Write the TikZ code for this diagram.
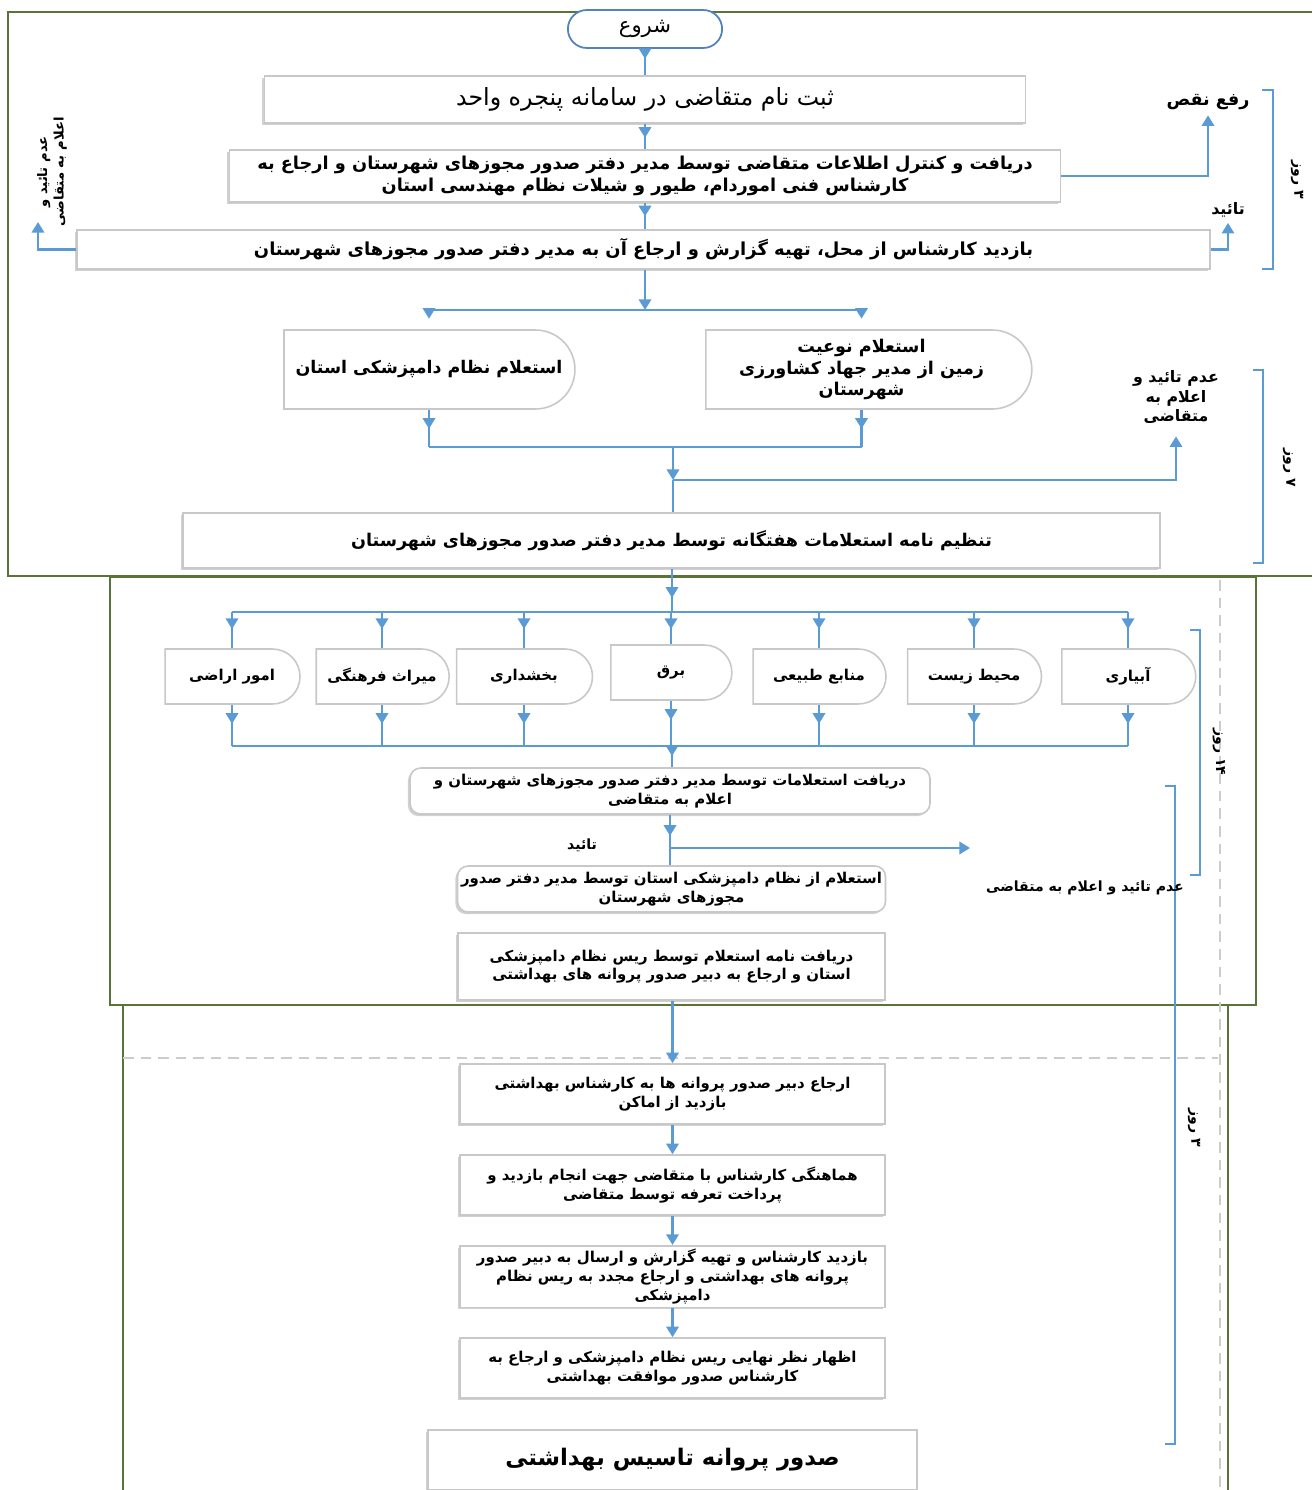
\documentclass[tikz,border=0pt]{standalone}
\usepackage{fontspec}
\newfontfamily\arabicfont[Script=Arabic]{DejaVu Sans}
\TeXXeTstate=1
\usetikzlibrary{arrows.meta,shapes.misc,decorations.markings,shadows,calc}
\newcommand\fatxt[1]{{\arabicfont\beginR #1\endR}}
\definecolor{conblue}{RGB}{91,155,213}
\definecolor{framegreen}{RGB}{90,115,55}
\definecolor{boxgray}{RGB}{200,200,200}
\definecolor{startblue}{RGB}{80,130,190}
\begin{document}
\begin{tikzpicture}[x=0.02cm,y=-0.02cm,
  conn/.style={draw=conblue,color=conblue,line width=1.3pt},
  endtip/.style={-{Triangle[width=7pt,length=6pt]}},
  midtip/.style={postaction={decorate},decoration={markings,mark=at position #1 with {\arrow{Triangle[width=7pt,length=6pt]}}}},
  shadowed/.style={drop shadow={shadow xshift=-1.2pt,shadow yshift=-1.2pt,opacity=0.18,fill=black}},
  box/.style={rectangle,draw=boxgray,line width=0.9pt,fill=white,align=center,inner sep=2pt,shadowed},
  rbox/.style={rectangle,rounded corners=6pt,draw=boxgray,line width=0.9pt,fill=white,align=center,inner sep=2pt,shadowed},
  delaybox/.style={rounded rectangle,rounded rectangle west arc=none,draw=boxgray,line width=0.9pt,fill=white,align=center,inner sep=2pt},
  startnode/.style={rounded rectangle,draw=startblue,line width=1pt,fill=white,minimum width=3.32cm,minimum height=0.76cm},
  lbl/.style={align=center,inner sep=1pt},
  bracketline/.style={draw=conblue,line width=1pt},
  framel/.style={draw=framegreen,line width=0.8pt},
  grayd/.style={draw=black!20,line width=0.7pt,dash pattern=on 6pt off 4pt},
  ft/.style={font=\fontsize{#1}{\dimexpr#1pt*5/4\relax}\selectfont},
  fb/.style={font=\fontsize{#1}{\dimexpr#1pt*5/4\relax}\selectfont\bfseries}
]
\useasboundingbox (0,0) rectangle (1312,1490);
\fill[white] (0,0) rectangle (1312,1490);

% frames
\draw[framel] (1312,12) -- (8,12) -- (8,576) -- (1312,576);
\draw[framel] (110,577) rectangle (1256,1005);
\draw[framel] (123,1490) -- (123,1005) -- (1228,1005) -- (1228,1490);
\draw[grayd] (1220,580) -- (1220,1490);
\draw[grayd] (123,1058) -- (1218,1058);

% brackets
\draw[bracketline] (1262,90) -- (1273,90) -- (1273,269) -- (1262,269);
\draw[bracketline] (1253,370) -- (1263,370) -- (1263,563) -- (1253,563);
\draw[bracketline] (1190,630) -- (1200,630) -- (1200,875) -- (1190,875);
\draw[bracketline] (1165,786) -- (1175,786) -- (1175,1444) -- (1165,1444);
\node[lbl,fb=8,rotate=-90] (day1) at (1297,180) {\fatxt{۳ روز}};
\node[lbl,fb=8,rotate=-90] (day2) at (1289,468) {\fatxt{۷ روز}};
\node[lbl,fb=8,rotate=-90] (day3) at (1219,752) {\fatxt{۱۴ روز}};
\node[lbl,fb=8,rotate=-90] (day4) at (1194,1128) {\fatxt{۳ روز}};

% nodes
\node[startnode,ft=12] (st) at (645,29) {\fatxt{شروع}};
\node[box,ft=13.5,minimum width=15.22cm,minimum height=0.94cm] (b1) at (645,99.5) {\fatxt{ثبت نام متقاضی در سامانه پنجره واحد}};
\node[box,fb=10.1,minimum width=16.62cm,minimum height=1.04cm] (b2) at (645,176) {\fatxt{دریافت و کنترل اطلاعات متقاضی توسط مدیر دفتر صدور مجوزهای شهرستان و ارجاع  به}\\\fatxt{کارشناس فنی اموردام، طیور و شیلات نظام مهندسی استان}};
\node[box,fb=10.2,minimum width=22.66cm,minimum height=0.78cm] (b3) at (643.5,249.5) {\fatxt{بازدید کارشناس از محل، تهیه گزارش و ارجاع آن به مدیر دفتر صدور مجوزهای شهرستان}};
\node[delaybox,fb=9.9,minimum width=5.96cm,minimum height=1.58cm] (d1) at (429,369.5) {\fatxt{استعلام نظام دامپزشکی استان}};
\node[delaybox,fb=10,minimum width=6.66cm,minimum height=1.58cm] (d2) at (861.5,369.5) {\fatxt{استعلام  نوعیت}\\\fatxt{زمین از مدیر جهاد کشاورزی}\\\fatxt{شهرستان}};
\node[box,fb=10,minimum width=19.54cm,minimum height=1.1cm] (b4) at (671.5,540.5) {\fatxt{تنظیم نامه استعلامات هفتگانه توسط مدیر دفتر صدور مجوزهای شهرستان}};

\node[delaybox,fb=8.5,minimum width=2.84cm,minimum height=1.1cm] (s1) at (232,676.5) {\fatxt{امور اراضی}};
\node[delaybox,fb=8.5,minimum width=2.8cm,minimum height=1.1cm] (s2) at (382,676.5) {\fatxt{میراث فرهنگی}};
\node[delaybox,fb=8.5,minimum width=2.86cm,minimum height=1.1cm] (s3) at (524,676.5) {\fatxt{بخشداری}};
\node[delaybox,fb=8.5,minimum width=2.56cm,minimum height=1.1cm] (s4) at (671,672.5) {\fatxt{برق}};
\node[delaybox,fb=8.5,minimum width=2.8cm,minimum height=1.1cm] (s5) at (819,676.5) {\fatxt{منابع طبیعی}};
\node[delaybox,fb=8.5,minimum width=2.82cm,minimum height=1.1cm] (s6) at (974,676.5) {\fatxt{محیط زیست}};
\node[delaybox,fb=8.5,minimum width=2.82cm,minimum height=1.1cm] (s7) at (1128,676.5) {\fatxt{آبیاری}};

\node[rbox,fb=8.5,minimum width=10.4cm,minimum height=0.92cm] (b5) at (670,791) {\fatxt{دریافت استعلامات توسط مدیر دفتر صدور مجوزهای شهرستان و}\\\fatxt{اعلام به متقاضی}};
\node[rbox,fb=8.5,minimum width=8.54cm,minimum height=0.92cm] (b6) at (671.5,889) {\fatxt{استعلام از نظام دامپزشکی استان توسط مدیر دفتر صدور}\\\fatxt{مجوزهای شهرستان}};
\node[box,fb=8.5,minimum width=8.54cm,minimum height=1.34cm] (b7) at (671.5,966.5) {\fatxt{دریافت نامه استعلام  توسط ریس نظام دامپزشکی}\\\fatxt{استان و ارجاع به دبیر صدور پروانه های بهداشتی}};
\node[box,fb=8.5,minimum width=8.5cm,minimum height=1.2cm] (b8) at (672.5,1094) {\fatxt{ارجاع دبیر صدور پروانه ها به کارشناس  بهداشتی}\\\fatxt{بازدید از اماکن}};
\node[box,fb=8.5,minimum width=8.5cm,minimum height=1.2cm] (b9) at (672.5,1185) {\fatxt{هماهنگی کارشناس با متقاضی جهت انجام بازدید و}\\\fatxt{پرداخت تعرفه توسط متقاضی}};
\node[box,fb=8.5,minimum width=8.5cm,minimum height=1.22cm] (b10) at (672.5,1276.5) {\fatxt{بازدید کارشناس و تهیه گزارش و ارسال به دبیر صدور}\\\fatxt{پروانه های بهداشتی  و ارجاع مجدد به ریس نظام}\\\fatxt{دامپزشکی}};
\node[box,fb=8.5,minimum width=8.5cm,minimum height=1.2cm] (b11) at (672.5,1368) {\fatxt{اظهار نظر نهایی ریس نظام دامپزشکی و ارجاع به}\\\fatxt{کارشناس صدور موافقت بهداشتی}};
\node[box,fb=13,minimum width=9.78cm,minimum height=1.2cm] (b12) at (672.5,1460) {\fatxt{صدور  پروانه تاسیس بهداشتی}};

% labels
\node[lbl,fb=10] (fix) at (1208,102) {\fatxt{رفع نقص}};
\node[lbl,fb=9] (ok1) at (1228,210) {\fatxt{تائید}};
\node[lbl,fb=7.5,rotate=90] (rej1) at (52,172) {\fatxt{عدم تائید و}\\\fatxt{اعلام به متقاضی}};
\node[lbl,fb=9] (rej2) at (1176,397) {\fatxt{عدم تائید و}\\\fatxt{اعلام به}\\\fatxt{متقاضی}};
\node[lbl,fb=8] (ok2) at (582,845) {\fatxt{تائید}};
\node[lbl,fb=8] (rej3) at (1085,888) {\fatxt{عدم تائید و اعلام به متقاضی}};

% junction coordinates
\coordinate (sp1) at (645,310);
\coordinate (j1) at (645,447);
\coordinate (j2) at (673,480);
\coordinate (br) at (672,612);
\coordinate (jn) at (672,746);
\coordinate (t1) at (670,848);
\coordinate (rejEnd) at (970,848);
\coordinate (fb1) at (38,222);

% connectors
\draw[conn,midtip=0.2cm] (st.south) -- (st.south |- b1.north);
\draw[conn,midtip=0.28cm] (b1.south) -- (b1.south |- b2.north);
\draw[conn,midtip=0.27cm] (b2.south) -- (b2.south |- b3.north);
\draw[conn,endtip] (b2.east) -| ([yshift=-2pt]fix.south);
\draw[conn,endtip] (b3.east) -| ([yshift=-2pt]ok1.south);
\draw[conn,endtip] (b3.west) -| (fb1);

\draw[conn,endtip] (b3.south -| sp1) -- (sp1);
\draw[conn] (d1.north |- sp1) -- (d2.north |- sp1);
\draw[conn,endtip,shorten >=6pt] (d1.north |- sp1) -- (d1.north);
\draw[conn,endtip,shorten >=6pt] (d2.north |- sp1) -- (d2.north);
\draw[conn,midtip=0.38cm] (d1.south) -- (d1.south |- j1);
\draw[conn,midtip=0.38cm] (d2.south) -- (d2.south |- j1);
\draw[conn] (d1.south |- j1) -- (d2.south |- j1);
\draw[conn,endtip] (j1 -| j2) -- (j2);
\draw[conn] (j2) -- (j2 |- b4.north);
\draw[conn,endtip] (j2) -| ([yshift=-6pt]rej2.south);

\draw[conn,midtip=0.58cm] (b4.south -| br) -- (br);
\draw[conn] (s1.north |- br) -- (s7.north |- br);
\foreach \s in {s1,s2,s3,s4,s5,s6,s7}{
  \draw[conn,midtip=0.34cm] (\s.north |- br) -- (\s.north);
  \draw[conn,midtip=0.38cm] (\s.south) -- (\s.south |- jn);
}
\draw[conn] (s1.south |- jn) -- (s7.south |- jn);
\draw[conn,midtip=0.2cm] (jn) -- (jn |- b5.north);
\draw[conn,midtip=0.42cm] (b5.south -| t1) -- (t1 |- b6.north);
\draw[conn,endtip] (t1) -- (rejEnd);

\draw[conn,endtip] (b7.south -| b8.north) -- (b8.north);
\draw[conn,endtip] (b8.south) -- (b9.north);
\draw[conn,endtip] (b9.south) -- (b10.north);
\draw[conn,endtip] (b10.south) -- (b11.north);
\end{tikzpicture}
\end{document}
